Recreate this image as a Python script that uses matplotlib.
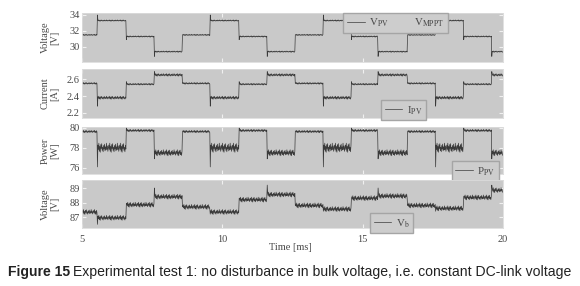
import numpy as np
import matplotlib.pyplot as plt

plt.rcParams['font.family'] = ['Liberation Serif', 'DejaVu Serif']
plt.rcParams['mathtext.fontset'] = 'stix'

# switching instants of the MPPT steps [ms]
t_sw = [5.55, 6.58, 7.58, 8.58, 9.57, 10.6, 11.6, 12.6, 13.6, 14.6,
        15.55, 16.6, 17.6, 18.6, 19.6]

# plateau levels (one per step), transient peak at step start, ripple size
v_pv = [31.5, 33.3, 31.3, 29.4] * 4
v_pv_pk = [31.5, 34.0, 30.9, 28.8] * 4
v_pv_rip = [0.08] * 16
v_mppt = [31.5, 33.3, 31.3, 29.4] * 4

i_pv = [2.55, 2.38, 2.54, 2.65] * 4
i_pv_pk = [2.55, 2.28, 2.57, 2.69] * 4
i_pv_rip = [0.010, 0.018, 0.010, 0.015] * 4

p_pv = [79.6, 78.0, 79.7, 77.5] * 4
p_pv_pk = [79.6, 76.1, 80.0, 76.9] * 4
p_pv_rip = [0.12, 0.45, 0.12, 0.30] * 4

v_b = [87.35, 86.95, 87.85, 88.4, 87.7, 87.35, 88.2, 88.55,
       87.8, 87.55, 88.3, 88.45, 87.8, 87.6, 88.35, 88.85]
v_b_pk = [87.35, 86.5, 87.9, 89.0, 87.7, 87.2, 88.3, 89.2,
          87.8, 87.4, 88.3, 89.0, 87.8, 87.4, 88.4, 89.2]
v_b_rip = [0.17] * 16

# hand-typed ripple shape (normalised) used on every plateau
ripple = [0.0, 0.6, -0.4, 1.0, -0.8, 0.3, -1.0, 0.7, -0.2, 0.9, -0.6, 0.1,
          -0.9, 0.5, -0.3, 0.8, -0.7, 0.2, -0.5, 1.0, -0.4, 0.4, -0.8]


def build(levels, peaks, rip):
    edges = [5.0] + t_sw + [20.0]
    tt, yy = [], []
    for k in range(len(levels)):
        n = max(int(60 * (edges[k + 1] - edges[k])), 8)
        ts = np.linspace(edges[k], edges[k + 1], n, endpoint=False)
        pat = np.resize(ripple, n)
        ys = levels[k] + rip[k] * pat
        ys[0] = peaks[k]
        tt.extend(ts)
        yy.extend(ys)
    tt.append(20.0)
    yy.append(yy[-1])
    return np.array(tt), np.array(yy)


def steps(levels):
    edges = [5.0] + t_sw + [20.0]
    return edges, levels + [levels[-1]]


fig = plt.figure(figsize=(5.8, 2.86), dpi=100)
L, W = 82 / 580, 421 / 580
boxes = [(13, 62), (69, 118), (127, 174), (180, 228)]
axs = []
for top, bot in boxes:
    ax = fig.add_axes([L, 1 - bot / 286, W, (bot - top) / 286])
    axs.append(ax)

grey_bg = '#c9c9c9'
line_c = '#3a3a3a'
txt_c = '#484848'
for ax in axs:
    ax.set_facecolor(grey_bg)
    for s in ax.spines.values():
        s.set_color('#dcdcdc')
        s.set_linewidth(0.6)
    ax.set_xlim(5, 20)
    ax.set_xticks([5, 10, 15, 20])
    ax.tick_params(direction='in', top=True, right=True, length=3,
                   color='#f0f0f0', labelsize=7.5, labelcolor=txt_c, pad=1.5)
    ax.tick_params(axis='x', labelbottom=False)
axs[-1].tick_params(axis='x', labelbottom=True, pad=5)

leg_kw = dict(fontsize=7.8, facecolor='#cdcdcd', edgecolor='#a5a5a5',
              framealpha=1, fancybox=False, handlelength=1.6,
              handletextpad=0.4, borderpad=0.35, labelcolor=txt_c,
              loc='upper left')

# panel 1: PV voltage
ax = axs[0]
se, sl = steps(v_mppt)
ax.step(se, sl, where='post', color='#cdcdcd', lw=0.6, label=r'V$_{\rm MPPT}$', zorder=1)
t, y = build(v_pv, v_pv_pk, v_pv_rip)
ax.plot(t, y, color=line_c, lw=0.5, label=r'V$_{\rm PV}$', zorder=2)
ax.set_ylim(28.1, 34.25)
ax.set_yticks([30, 32, 34])
h, lab = ax.get_legend_handles_labels()
ax.legend(h[::-1], lab[::-1], ncol=2, bbox_to_anchor=(0.608, 1.12),
          columnspacing=0.4, **leg_kw)

# panel 2: PV current
ax = axs[1]
t, y = build(i_pv, i_pv_pk, i_pv_rip)
ax.plot(t, y, color=line_c, lw=0.5, label=r'I$_{\rm PV}$')
ax.set_ylim(2.14, 2.72)
ax.set_yticks([2.2, 2.4, 2.6])
ax.legend(bbox_to_anchor=(0.698, 0.47), **leg_kw)

# panel 3: PV power
ax = axs[2]
t, y = build(p_pv, p_pv_pk, p_pv_rip)
ax.plot(t, y, color=line_c, lw=0.5, label=r'P$_{\rm PV}$')
ax.set_ylim(75.4, 80.05)
ax.set_yticks([76, 78, 80])
ax.legend(bbox_to_anchor=(0.865, 0.383), **leg_kw)

# panel 4: bulk voltage
ax = axs[3]
t, y = build(v_b, v_b_pk, v_b_rip)
ax.plot(t, y, color=line_c, lw=0.5, label=r'V$_{\rm b}$')
ax.set_ylim(86.25, 89.55)
ax.set_yticks([87, 88, 89])
ax.legend(bbox_to_anchor=(0.672, 0.417), **leg_kw)

ylabels = ['Voltage\n[V]', 'Current\n[A]', 'Power\n[W]', 'Voltage\n[V]']
for (top, bot), s in zip(boxes, ylabels):
    fig.text(50 / 580, 1 - (top + bot) / 2 / 286, s, rotation=90,
             ha='center', va='center', fontsize=7.5, color=txt_c,
             linespacing=1.1, multialignment='center')

fig.text(290 / 580, 1 - 247 / 286, 'Time [ms]', ha='center', va='center',
         fontsize=7.5, color=txt_c)

# caption
cap1 = fig.text(8 / 580, 1 - 272 / 286, 'Figure 15', family='Liberation Sans',
                fontweight='bold', fontsize=10.1, va='center', color='#222222')
fig.canvas.draw()
bb = cap1.get_window_extent()
fig.text(bb.x1 / 580 + 3 / 580, 1 - 272 / 286,
         'Experimental test 1: no disturbance in bulk voltage, i.e. constant DC-link voltage',
         family='Liberation Sans', fontsize=10.1, va='center', color='#222222')

fig.savefig('out.png', dpi=100)
